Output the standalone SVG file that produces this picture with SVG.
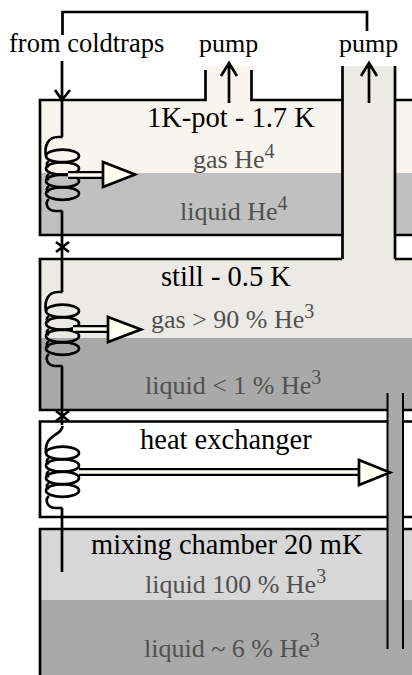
<svg xmlns="http://www.w3.org/2000/svg" width="412" height="675" viewBox="0 0 412 675">
<style>
text{font-family:"Liberation Serif","Times New Roman",serif;font-size:26px;fill:#000}
.t{font-size:28.500px}
.g{fill:#505050}
.s{font-size:20px}
.w{fill:none;stroke:#000;stroke-width:2.700}
.b{stroke:#000;stroke-width:2.700;fill:none}
.h{fill:#fffff2;stroke:#000;stroke-width:2.700}
</style>
<defs>
<g id="coil" class="w">
<ellipse cx="16.500" cy="19" rx="16.500" ry="6.300"/>
<ellipse cx="16.500" cy="31.500" rx="16.500" ry="6.300"/>
<ellipse cx="16.500" cy="44" rx="16.500" ry="6.300"/>
<ellipse cx="16.500" cy="56.500" rx="16.500" ry="6.300"/>
<path d="M3 24C0 26 0 28 3 30M3 37C0 39 0 41 3 43M3 49C0 51 0 53 3 55"/>
<path d="M3 62C-1 65 0 74 10 74H16.500"/>
</g>
</defs>
<rect width="412" height="675" fill="#fff"/>
<g id="pot">
<rect x="40" y="100" width="372" height="73" fill="#f7f5ee"/>
<rect x="40" y="173" width="372" height="62" fill="#c0c0c0"/>
<rect x="206" y="66" width="45" height="34" fill="#f7f5ee"/>
<path class="b" d="M205.500 70V100H40V235H342M251.500 70V100H342M395 100H412M395 235H412"/>
<text x="147" y="127" class="t">1K-pot - 1.7 K</text>
<text x="193" y="168" class="g">gas He<tspan class="s" dy="-10">4</tspan></text>
<text x="180" y="220" class="g">liquid He<tspan class="s" dy="-10">4</tspan></text>
</g>
<g id="still">
<rect x="40" y="259" width="372" height="79" fill="#ebeae6"/>
<rect x="40" y="338" width="372" height="72" fill="#a9a9a9"/>
<path class="b" d="M342 259H40V410H412M395 259H412"/>
<text x="161" y="286" class="t">still - 0.5 K</text>
<text x="151" y="328" class="g">gas &gt; 90 % He<tspan class="s" dy="-10">3</tspan></text>
<text x="145" y="394" class="g">liquid &lt; 1 % He<tspan class="s" dy="-10">3</tspan></text>
</g>
<g id="pipe">
<rect x="342" y="66" width="53" height="194" fill="#ebeae6"/>
<path class="b" d="M342.500 66V259M395 66V259"/>
</g>
<g id="exchanger">
<path class="b" d="M412 421.500H40V517H412"/>
<text x="140" y="449" class="t">heat exchanger</text>
</g>
<g id="mixing">
<rect x="40" y="529" width="372" height="71" fill="#d7d7d7"/>
<rect x="40" y="600" width="372" height="75" fill="#a9a9a9"/>
<path class="b" d="M412 529H40V675"/>
<text x="91" y="554" class="t">mixing chamber 20 mK</text>
<text x="145" y="593" class="g">liquid 100 % He<tspan class="s" dy="-10">3</tspan></text>
<text x="144" y="657" class="g">liquid ~ 6 % He<tspan class="s" dy="-10">3</tspan></text>
</g>
<g id="return-pipe">
<rect x="387" y="393" width="16" height="256" fill="#a9a9a9"/>
<path d="M387.500 393V649M403 393V649" fill="none" stroke="#000" stroke-width="2"/>
</g>
<g id="connectors">
<path class="w" d="M62.500 35V12H367V31"/>
<path class="w" d="M62 61V137M55 90L62 100L70 90"/>
<path class="w" d="M62.500 137H58C48 137 44 146 46 156"/>
<use href="#coil" x="46" y="137"/>
<path class="w" d="M62 211V292M56 242L69 252M69 242L56 252"/>
<path class="w" d="M62.500 292H58C48 292 44 301 46 311"/>
<use href="#coil" x="46" y="292"/>
<path class="w" d="M62 366V425M56 411L69 421M69 411L56 421"/>
<path class="w" d="M62.500 426C62 436 44 434 46 453"/>
<use href="#coil" x="46" y="434"/>
<path class="w" d="M62 508V572"/>
<path class="w" d="M229 103V63M221 76L229 63L237 76M369 103V63M361 76L369 63L377 76"/>
<path d="M68 175H104" stroke="#000" stroke-width="8"/><path d="M68 175H104" stroke="#fffff2" stroke-width="3.500"/>
<polygon class="h" points="103,162 135,174.500 103,187"/>
<path d="M73 329H109" stroke="#000" stroke-width="8"/><path d="M73 329H109" stroke="#fffff2" stroke-width="3.500"/>
<polygon class="h" points="108,317 141,329.500 108,342"/>
<path d="M79 472H360" stroke="#000" stroke-width="8"/><path d="M79 472H360" stroke="#fffff2" stroke-width="3.500"/>
<polygon class="h" points="359,460 390,472.500 359,485"/>
</g>
<g id="labels">
<text x="9" y="52" style="font-size:26.500px">from coldtraps</text>
<text x="199" y="52">pump</text>
<text x="339" y="52">pump</text>
</g>
</svg>
